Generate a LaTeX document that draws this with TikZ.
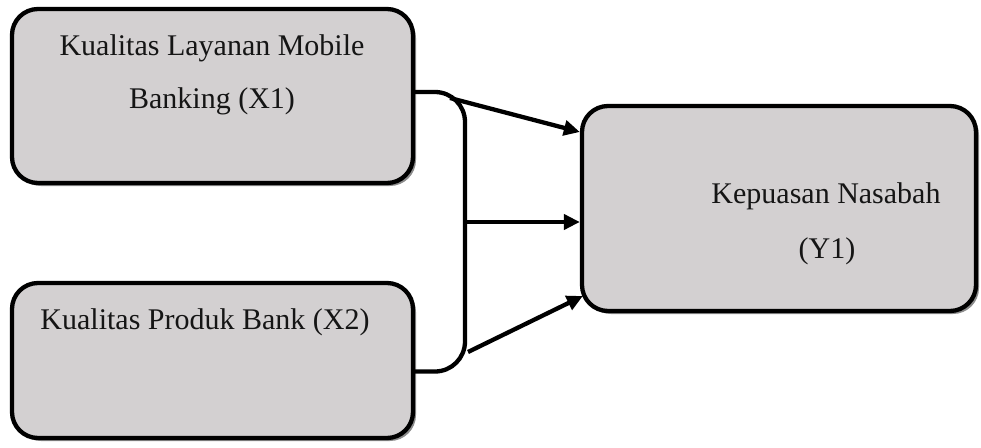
\documentclass[tikz,border=0pt]{standalone}
\usepackage{fontspec}
\setmainfont{Liberation Serif}
\usetikzlibrary{arrows.meta,shadows}
\definecolor{boxgray}{HTML}{D3D0D1}
\definecolor{inkdark}{HTML}{151515}
\tikzset{
  varbox/.style={draw=black, line width=4.3pt, fill=boxgray, rounded corners=26pt,
    inner sep=0pt,
    drop shadow={shadow xshift=3pt, shadow yshift=-3pt, fill=black, opacity=0.45}},
  boxtext/.style={font=\fontsize{30}{36}\selectfont, text=inkdark, inner sep=0pt, anchor=center},
  link/.style={draw=black, line width=4.3pt},
  arrowlink/.style={link, -{Triangle[length=16pt,width=15pt]}},
}
\begin{document}
\begin{tikzpicture}[x=1pt,y=-1pt]
  \useasboundingbox (0,0) rectangle (981,447);

  % variable boxes
  \node[varbox, minimum width=401pt, minimum height=174pt] (x1) at (212.5,96) {};
  \node[varbox, minimum width=401pt, minimum height=155pt] (x2) at (212.5,360.5) {};
  \node[varbox, minimum width=394pt, minimum height=205pt] (y1) at (779,208.5) {};

  % box labels
  \node[boxtext] (x1a) at (212,48) {Kualitas Layanan Mobile};
  \node[boxtext] (x1b) at (212,101) {Banking (X1)};
  \node[boxtext] (x2a) at (205,322) {Kualitas Produk Bank (X2)};
  \node[boxtext] (y1a) at (826,196) {Kepuasan Nasabah};
  \node[boxtext] (y1b) at (827,251) {(Y1)};

  % bracket joining both independent variables
  \coordinate (top) at ([yshift=4pt]x1.east);
  \coordinate (bot) at ([yshift=-11pt]x2.east);
  \draw[link, rounded corners=30pt] (top) -| (465,230) |- (bot);

  % arrows into the dependent variable
  \coordinate (s1) at (450,98);
  \coordinate (s2) at (465,222);
  \coordinate (s3) at (468,352);
  \draw[arrowlink] (s1) -- (y1.west |- 0,132);
  \draw[arrowlink] (s2) -- (y1.west |- s2);
  \draw[arrowlink] (s3) -- ([xshift=3pt]y1.west |- 0,296);
\end{tikzpicture}
\end{document}
